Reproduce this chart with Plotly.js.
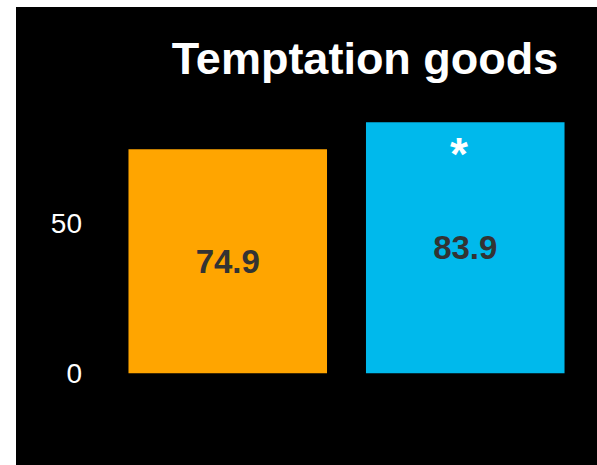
<!DOCTYPE html>
<html>
<head>
<meta charset="utf-8">
<script src="https://cdn.plot.ly/plotly-3.0.1.min.js"></script>
<style>
html,body{margin:0;padding:0;background:#fff;}
#chart{position:absolute;left:16px;top:7px;width:581px;height:458px;}
</style>
</head>
<body>
<div id="chart"></div>
<script>
const categories = ["Group A", "Group B"];
const values = [74.9, 83.9];
const valueLabels = ["74.9", "83.9"];
const barColors = ["#FFA500", "#00B9EC"];
const significance = ["", "*"];
const titleText = "Temptation goods";
const tickVals = [0, 50];
const tickText = ["0", "50"];

const trace = {
  type: "bar",
  x: categories,
  y: values,
  text: valueLabels,
  textposition: "inside",
  insidetextanchor: "middle",
  textangle: 0,
  textfont: {family: "Liberation Sans, Arial, sans-serif", size: 33, color: "#333333", weight: "bold"},
  marker: {color: barColors, line: {width: 0}},
  hoverinfo: "none"
};

const annotations = [];
categories.forEach((c, i) => {
  if (significance[i]) {
    annotations.push({
      x: c, y: values[i], xref: "x", yref: "y",
      text: "<b>" + significance[i] + "</b>",
      showarrow: false, yanchor: "top", xshift: -6, yshift: -4,
      font: {family: "Liberation Sans, Arial, sans-serif", size: 46, color: "#ffffff"}
    });
  }
});

const layout = {
  width: 581, height: 458,
  paper_bgcolor: "#000000", plot_bgcolor: "#000000",
  margin: {l: 92.5, r: 12.5, t: 97, b: 32},
  showlegend: false,
  bargap: 0.164,
  title: {
    text: "<b>" + titleText + "</b>",
    font: {family: "Liberation Sans, Arial, sans-serif", size: 45, color: "#ffffff"},
    x: 0.539, xref: "paper", xanchor: "center",
    y: 0.889, yref: "container", yanchor: "middle"
  },
  xaxis: {
    showticklabels: false, showgrid: false, zeroline: false, showline: false, ticks: "",
    range: [-0.5, 1.5]
  },
  yaxis: {
    range: [-20, 90], tickvals: tickVals, ticktext: tickText,
    showgrid: false, zeroline: false, showline: false, ticks: "",
    ticklabelstandoff: 26,
    tickfont: {family: "Liberation Sans, Arial, sans-serif", size: 28, color: "#ffffff"}
  },
  annotations: annotations
};

Plotly.newPlot("chart", [trace], layout, {displayModeBar: false, staticPlot: true});
</script>
</body>
</html>
